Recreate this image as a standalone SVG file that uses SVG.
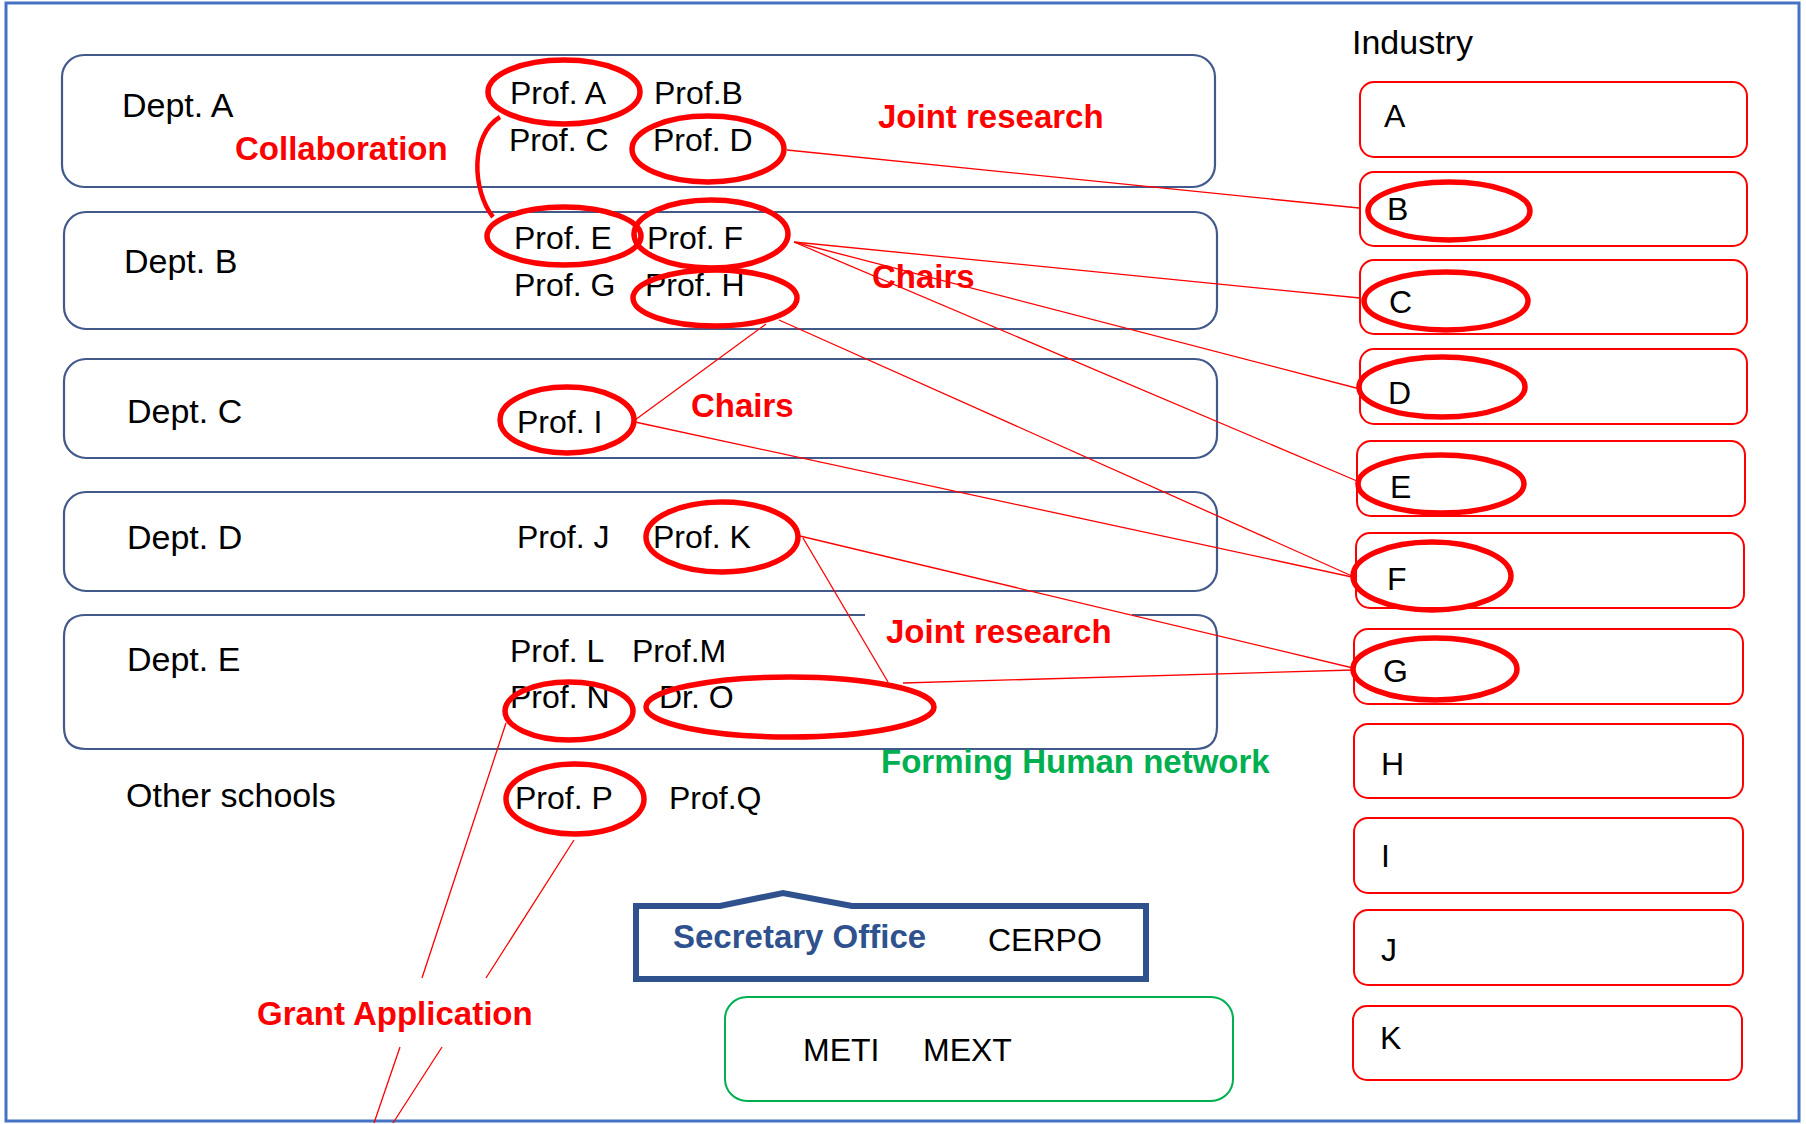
<svg xmlns="http://www.w3.org/2000/svg" width="1806" height="1124" viewBox="0 0 1806 1124">
<style>
.t{font-family:"Liberation Sans",Arial,sans-serif;font-size:32px;fill:#000}
.d{font-family:"Liberation Sans",Arial,sans-serif;font-size:34px;fill:#000}
.r{font-family:"Liberation Sans",Arial,sans-serif;font-size:33px;font-weight:bold;fill:#FF0000}
.g{font-family:"Liberation Sans",Arial,sans-serif;font-size:33px;font-weight:bold;fill:#00B050}
.dept{fill:none;stroke:#41598B;stroke-width:2.2}
.ind{fill:none;stroke:#FF0000;stroke-width:2}
.ov{fill:none;stroke:#FF0000;stroke-width:5.5}
.ln{fill:none;stroke:#FF0000;stroke-width:1.3}
</style>
<rect x="0" y="0" width="1806" height="1124" fill="#fff"/>
<rect x="6" y="3" width="1793" height="1118" fill="none" stroke="#4472C4" stroke-width="3"/>

<g id="dept-a">
<rect class="dept" x="62" y="55" width="1153" height="132" rx="22"/>
<text class="d" x="122" y="117">Dept. A</text>
<text class="t" x="510" y="104">Prof. A</text>
<text class="t" x="654" y="104">Prof.B</text>
<text class="t" x="509" y="151">Prof. C</text>
<text class="t" x="653" y="151">Prof. D</text>
</g>
<g id="dept-b">
<rect class="dept" x="64" y="212" width="1153" height="117" rx="22"/>
<text class="d" x="124" y="273">Dept. B</text>
<text class="t" x="514" y="249">Prof. E</text>
<text class="t" x="647" y="249">Prof. F</text>
<text class="t" x="514" y="296">Prof. G</text>
<text class="t" x="645" y="296">Prof. H</text>
</g>
<g id="dept-c">
<rect class="dept" x="64" y="359" width="1153" height="99" rx="22"/>
<text class="d" x="127" y="423">Dept. C</text>
<text class="t" x="517" y="433">Prof. I</text>
</g>
<g id="dept-d">
<rect class="dept" x="64" y="492" width="1153" height="99" rx="22"/>
<text class="d" x="127" y="549">Dept. D</text>
<text class="t" x="517" y="548">Prof. J</text>
<text class="t" x="653" y="548">Prof. K</text>
</g>
<g id="dept-e">
<path class="dept" d="M865 615 L86 615 Q64 615 64 637 L64 727 Q64 749 86 749 L1195 749 Q1217 749 1217 727 L1217 637 Q1217 615 1195 615 L1132 615"/>
<text class="d" x="127" y="671">Dept. E</text>
<text class="t" x="510" y="662">Prof. L</text>
<text class="t" x="632" y="662">Prof.M</text>
<text class="t" x="510" y="708">Prof. N</text>
<text class="t" x="659" y="708">Dr. O</text>
</g>
<g id="other-schools">
<text class="d" x="126" y="807">Other schools</text>
<text class="t" x="515" y="809">Prof. P</text>
<text class="t" x="669" y="809">Prof.Q</text>
</g>

<g id="industry">
<text class="d" x="1352" y="54">Industry</text>
<g id="ind-a"><rect class="ind" x="1360" y="82" width="387" height="75" rx="14"/><text class="t" x="1384" y="127">A</text></g>
<g id="ind-b"><rect class="ind" x="1360" y="172" width="387" height="74" rx="14"/><text class="t" x="1387" y="220">B</text></g>
<g id="ind-c"><rect class="ind" x="1360" y="260" width="387" height="74" rx="14"/><text class="t" x="1389" y="313">C</text></g>
<g id="ind-d"><rect class="ind" x="1360" y="349" width="387" height="75" rx="14"/><text class="t" x="1388" y="404">D</text></g>
<g id="ind-e"><rect class="ind" x="1357" y="441" width="388" height="75" rx="14"/><text class="t" x="1390" y="498">E</text></g>
<g id="ind-f"><rect class="ind" x="1356" y="533" width="388" height="75" rx="14"/><text class="t" x="1387" y="590">F</text></g>
<g id="ind-g"><rect class="ind" x="1354" y="629" width="389" height="75" rx="14"/><text class="t" x="1383" y="682">G</text></g>
<g id="ind-h"><rect class="ind" x="1354" y="724" width="389" height="74" rx="14"/><text class="t" x="1381" y="775">H</text></g>
<g id="ind-i"><rect class="ind" x="1354" y="818" width="389" height="75" rx="14"/><text class="t" x="1381" y="867">I</text></g>
<g id="ind-j"><rect class="ind" x="1354" y="910" width="389" height="75" rx="14"/><text class="t" x="1381" y="961">J</text></g>
<g id="ind-k"><rect class="ind" x="1353" y="1006" width="389" height="74" rx="14"/><text class="t" x="1380" y="1049">K</text></g>
</g>

<g id="secretary-office">
<path d="M636 906 L720 906 L783 893 L852 906 L1146 906 L1146 979 L636 979 Z" fill="none" stroke="#2F528F" stroke-width="6"/>
<text x="673" y="948" font-family="Liberation Sans, Arial, sans-serif" font-size="33" font-weight="bold" fill="#2F528F">Secretary Office</text>
<text class="t" x="988" y="951" font-size="31">CERPO</text>
</g>
<g id="ministries">
<rect x="725" y="997" width="508" height="104" rx="22" fill="none" stroke="#00B050" stroke-width="2"/>
<text class="t" x="803" y="1061">METI</text>
<text class="t" x="923" y="1061">MEXT</text>
</g>

<g id="highlights">
<ellipse class="ov" cx="564" cy="92" rx="76" ry="32"/>
<ellipse class="ov" cx="708" cy="149" rx="76" ry="33"/>
<ellipse class="ov" cx="564" cy="236" rx="77" ry="29"/>
<ellipse class="ov" cx="711" cy="234" rx="77" ry="34"/>
<ellipse class="ov" cx="715" cy="298" rx="82" ry="28"/>
<ellipse class="ov" cx="567" cy="420" rx="67" ry="33"/>
<ellipse class="ov" cx="722" cy="537" rx="76" ry="35"/>
<ellipse class="ov" cx="569" cy="711" rx="64" ry="29"/>
<ellipse class="ov" cx="790" cy="707" rx="144" ry="30"/>
<ellipse class="ov" cx="575" cy="799" rx="69" ry="35"/>
<ellipse class="ov" cx="1449" cy="211" rx="81" ry="29"/>
<ellipse class="ov" cx="1446" cy="301" rx="82" ry="29"/>
<ellipse class="ov" cx="1442" cy="387" rx="83" ry="30"/>
<ellipse class="ov" cx="1441" cy="484" rx="83" ry="29"/>
<ellipse class="ov" cx="1432" cy="576" rx="79" ry="34"/>
<ellipse class="ov" cx="1435" cy="669" rx="82" ry="31"/>
</g>

<g id="connectors">
<path d="M500 117 C470 135 472 190 493 217" fill="none" stroke="#FF0000" stroke-width="4.5"/>
<line class="ln" x1="787" y1="150" x2="1359" y2="208"/>
<line class="ln" x1="794" y1="242" x2="1360" y2="298"/>
<line class="ln" x1="794" y1="242" x2="1360" y2="389"/>
<line class="ln" x1="794" y1="242" x2="1357" y2="481"/>
<line class="ln" x1="779" y1="320" x2="1352" y2="576"/>
<line class="ln" x1="766" y1="324" x2="635" y2="420"/>
<line class="ln" x1="635" y1="422" x2="1352" y2="577"/>
<line class="ln" x1="800" y1="536" x2="1353" y2="668"/>
<line class="ln" x1="803" y1="538" x2="888" y2="682"/>
<line class="ln" x1="903" y1="683" x2="1353" y2="670"/>
<path class="ln" d="M506 723 L422 978 M400 1047 L374 1123"/>
<path class="ln" d="M574 840 L486 978 M442 1047 L393 1123"/>
</g>

<g id="labels">
<text class="r" x="235" y="160">Collaboration</text>
<text class="r" x="878" y="128">Joint research</text>
<text class="r" x="872" y="288">Chairs</text>
<text class="r" x="691" y="417">Chairs</text>
<text class="r" x="886" y="643">Joint research</text>
<text class="g" x="881" y="773">Forming Human network</text>
<text class="r" x="257" y="1025">Grant Application</text>
</g>
</svg>
